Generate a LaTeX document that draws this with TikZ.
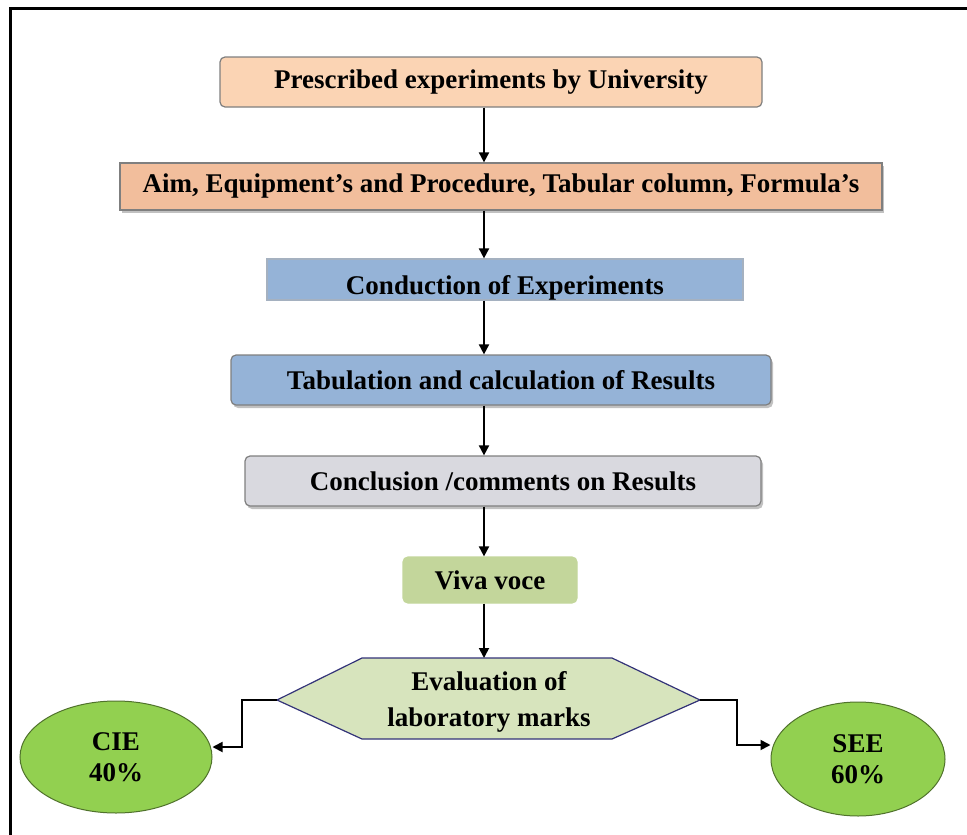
\documentclass[tikz,border=0pt]{standalone}
\usepackage{fontspec}
\setmainfont{Liberation Serif}
\usetikzlibrary{arrows.meta,shadows,shapes.geometric}

\definecolor{peachA}{HTML}{FBD4B4}
\definecolor{peachB}{HTML}{F2BE9C}
\definecolor{blueA}{HTML}{95B3D7}
\definecolor{greyA}{HTML}{D9D9DF}
\definecolor{oliveA}{HTML}{C3D69B}
\definecolor{oliveB}{HTML}{D7E4BD}
\definecolor{greenA}{HTML}{92D050}
\definecolor{edgeA}{HTML}{7F7F7F}

\tikzset{
  lbl/.style={font=\fontsize{27}{33}\selectfont\bfseries, text=black},
  boxr/.style={lbl, draw=edgeA, line width=1.2pt, rounded corners=5pt, inner sep=0pt},
  boxs/.style={lbl, draw=edgeA, line width=1.2pt, inner sep=0pt},
  shad/.style={drop shadow={shadow xshift=2pt, shadow yshift=-3pt, fill=black!30, opacity=0.8}},
  arr/.style={draw=black, line width=1.8pt, -{Triangle[width=10pt,length=10pt]}},
  oval/.style={ellipse, lbl, draw=black!45!greenA, line width=1pt, fill=greenA, align=center, inner sep=0pt,
               font=\fontsize{27}{31}\selectfont\bfseries}
}

\begin{document}
\begin{tikzpicture}[x=1pt,y=-1pt]
  \useasboundingbox (0,0) rectangle (967,835);

  % outer frame (top and left edges)
  \draw[line width=3pt] (10,835) -- (10,8) -- (967,8);

  \coordinate (spine) at (484,0);

  % process boxes
  \node[boxr, fill=peachA, minimum width=542pt, minimum height=50pt] (b1) at (491,82) {Prescribed experiments by University};
  \node[boxs, fill=peachB, shad, minimum width=762pt, minimum height=47pt] (b2) at (501,186.5) {Aim, Equipment’s and Procedure, Tabular column, Formula’s};
  \node[boxs, fill=blueA, draw=blueA!70!black!60, minimum width=476pt, minimum height=41pt] (b3) at (505,279.5) {\raisebox{-15pt}[0pt][0pt]{Conduction of Experiments}};
  \node[boxr, fill=blueA, shad, minimum width=540pt, minimum height=50pt] (b4) at (501,380) {Tabulation and calculation of Results};
  \node[boxr, fill=greyA, shad, minimum width=516pt, minimum height=50pt] (b5) at (503,481) {Conclusion /comments on Results};
  \node[boxr, fill=oliveA, draw=oliveA, minimum width=174pt, minimum height=46pt] (b6) at (490,580) {Viva voce};

  % evaluation hexagon
  \coordinate (hL) at (277,700);
  \coordinate (hR) at (700,700);
  \filldraw[fill=oliveB, draw=black!55!blue!60!gray, line width=1.2pt]
    (hL) -- (362,658) -- (612,658) -- (hR) -- (612,739) -- (362,739) -- cycle;
  \node[lbl, align=center, font=\fontsize{27}{36}\selectfont\bfseries] (ev) at (489,702) {Evaluation of\\laboratory marks};

  % result ellipses
  \node[oval, minimum width=192pt, minimum height=112pt] (cie) at (116,757) {CIE\\40\%};
  \node[oval, minimum width=174pt, minimum height=114pt] (see) at (858,759) {SEE\\60\%};

  % main flow
  \draw[arr] (b1.south -| spine) -- (b2.north -| spine);
  \draw[arr] (b2.south -| spine) -- (b3.north -| spine);
  \draw[arr] (b3.south -| spine) -- (b4.north -| spine);
  \draw[arr] (b4.south -| spine) -- (b5.north -| spine);
  \draw[arr] (b5.south -| spine) -- (b6.north -| spine);
  \draw[arr] (b6.south -| spine) -- (spine |- 0,658);

  % branches to the two marks
  \draw[arr] (hL) -- (242,700) -- (242,747) -- (cie.east |- 0,747);
  \draw[arr] (hR) -- (737,700) -- (737,745) -- (see.west |- 0,745);
\end{tikzpicture}
\end{document}
